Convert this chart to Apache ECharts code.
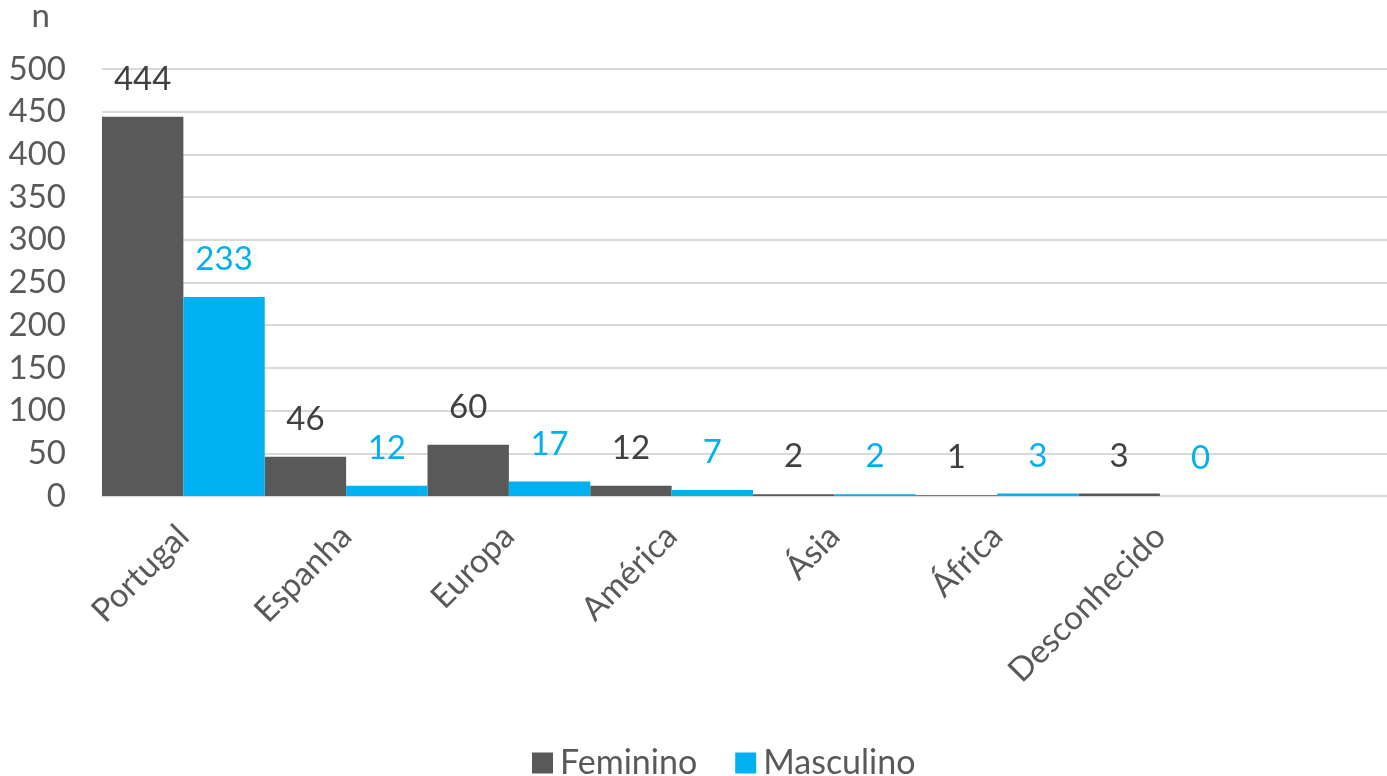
<!DOCTYPE html>
<html>
<head>
<meta charset="utf-8">
<script src="https://cdn.jsdelivr.net/npm/echarts@6/dist/echarts.min.js"></script>
<style>
html,body{margin:0;padding:0;background:#fff;overflow:hidden;}
#chart{width:1410px;height:776px;}
</style>
</head>
<body>
<div id="chart"></div>
<script>
const categories = ['Portugal', 'Espanha', 'Europa', 'América', 'Ásia', 'África', 'Desconhecido'];
const feminino = [444, 46, 60, 12, 2, 1, 3];
const masculino = [233, 12, 17, 7, 2, 3, 0];
const yTicks = { min: 0, max: 500, interval: 50 };

const FONT = 'Lato';
const chart = echarts.init(document.getElementById('chart'));
chart.setOption({
  animation: false,
  textStyle: { fontFamily: FONT },
  grid: { left: 102, top: 66, width: 1302, height: 430, containLabel: false },
  legend: {
    left: 532, top: 746, padding: 0,
    itemWidth: 21, itemHeight: 21, itemGap: 38,
    icon: 'rect',
    textStyle: { fontFamily: FONT, fontSize: 34, color: '#595959', padding: [0, 0, 0, 2] },
    data: ['Feminino', 'Masculino']
  },
  xAxis: {
    type: 'category',
    data: categories.concat(['']),
    axisLine: { lineStyle: { color: '#d9d9d9', width: 2 } },
    axisTick: { show: false },
    axisLabel: { rotate: 45, margin: 35, fontFamily: FONT, fontSize: 33, color: '#595959', interval: 0 }
  },
  yAxis: {
    type: 'value',
    min: yTicks.min, max: yTicks.max, interval: yTicks.interval,
    name: 'n',
    nameLocation: 'end',
    nameGap: 36,
    nameTextStyle: { fontFamily: FONT, fontSize: 33, color: '#595959', align: 'right', padding: [0, 52, 0, 0] },
    axisLine: { show: false },
    axisTick: { show: false },
    axisLabel: { margin: 36, fontFamily: FONT, fontSize: 33, color: '#595959' },
    splitLine: { lineStyle: { color: '#d9d9d9', width: 2 } }
  },
  series: [
    {
      name: 'Feminino', type: 'bar', data: feminino,
      barGap: '0%', barCategoryGap: '0%',
      itemStyle: { color: '#595959' },
      label: { show: true, position: 'top', distance: 21, fontFamily: FONT, fontSize: 33, color: '#404040' }
    },
    {
      name: 'Masculino', type: 'bar', data: masculino,
      barGap: '0%', barCategoryGap: '0%',
      itemStyle: { color: '#00b0f0' },
      label: { show: true, position: 'top', distance: 21, fontFamily: FONT, fontSize: 33, color: '#00b0f0' }
    }
  ]
});
</script>
</body>
</html>
